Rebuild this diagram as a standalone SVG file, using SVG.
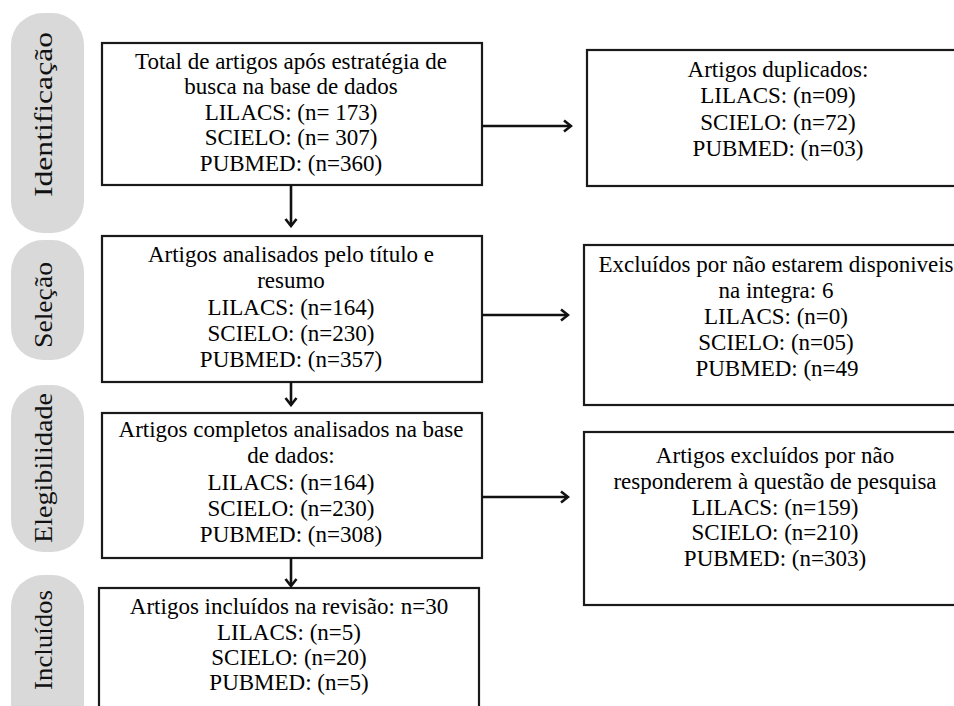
<svg xmlns="http://www.w3.org/2000/svg" width="954" height="706" viewBox="0 0 954 706">
<defs>
<style>
.pill{fill:#d9d9d9;}
.box{fill:#fff;stroke:#1a1a1a;stroke-width:2.2;}
.t{font-family:"Liberation Serif","Times New Roman",serif;font-size:23px;fill:#000;text-anchor:middle;}
.p{font-family:"Liberation Serif","Times New Roman",serif;font-size:25px;fill:#111;text-anchor:middle;}
.c{fill:none;stroke:#111;stroke-width:2.6;}
</style>
<marker id="ah" markerUnits="userSpaceOnUse" markerWidth="14" markerHeight="14" viewBox="0 0 14 14" refX="12" refY="7" orient="auto">
<path d="M5,1.5 L12,7 L5,12.5" fill="none" stroke="#111" stroke-width="2.6"/>
</marker>
</defs>
<rect width="954" height="706" fill="#fff"/>

<g id="stage-identificacao">
<rect class="pill" x="11" y="13" width="73" height="220" rx="32"/>
<text class="p" transform="translate(52,114.5) rotate(-90)" textLength="165" lengthAdjust="spacingAndGlyphs">Identificação</text>
</g>
<g id="stage-selecao">
<rect class="pill" x="11" y="240" width="73" height="120" rx="32"/>
<text class="p" transform="translate(52,305) rotate(-90)" textLength="86" lengthAdjust="spacingAndGlyphs">Seleção</text>
</g>
<g id="stage-elegibilidade">
<rect class="pill" x="11" y="385" width="73" height="167" rx="32"/>
<text class="p" transform="translate(52,468) rotate(-90)" textLength="150" lengthAdjust="spacingAndGlyphs">Elegibilidade</text>
</g>
<g id="stage-incluidos">
<rect class="pill" x="11" y="575" width="73" height="160" rx="32"/>
<text class="p" transform="translate(52,640) rotate(-90)" textLength="100" lengthAdjust="spacingAndGlyphs">Incluídos</text>
</g>

<g id="box-total">
<rect class="box" x="102" y="43" width="380" height="142"/>
<text class="t" x="291" y="68.5">Total de artigos após estratégia de</text>
<text class="t" x="291" y="94">busca na base de dados</text>
<text class="t" x="291" y="119.5">LILACS: (n= 173)</text>
<text class="t" x="291" y="145">SCIELO: (n= 307)</text>
<text class="t" x="291" y="170.5">PUBMED: (n=360)</text>
</g>

<g id="box-duplicados">
<rect class="box" x="587" y="50" width="380" height="136"/>
<text class="t" x="778" y="76.5">Artigos duplicados:</text>
<text class="t" x="778" y="103">LILACS: (n=09)</text>
<text class="t" x="778" y="129.5">SCIELO: (n=72)</text>
<text class="t" x="778" y="156">PUBMED: (n=03)</text>
</g>

<g id="box-titulo-resumo">
<rect class="box" x="102" y="236" width="380" height="146"/>
<text class="t" x="291" y="262">Artigos analisados pelo título e</text>
<text class="t" x="291" y="288">resumo</text>
<text class="t" x="291" y="314.5">LILACS: (n=164)</text>
<text class="t" x="291" y="340.5">SCIELO: (n=230)</text>
<text class="t" x="291" y="367">PUBMED: (n=357)</text>
</g>

<g id="box-indisponiveis">
<rect class="box" x="584" y="245" width="380" height="160"/>
<text class="t" x="776" y="272">Excluídos por não estarem disponiveis</text>
<text class="t" x="776" y="298">na integra: 6</text>
<text class="t" x="776" y="324">LILACS: (n=0)</text>
<text class="t" x="776" y="350">SCIELO: (n=05)</text>
<text class="t" x="777" y="376">PUBMED: (n=49</text>
</g>

<g id="box-completos">
<rect class="box" x="102" y="413" width="380" height="145"/>
<text class="t" x="291" y="437">Artigos completos analisados na base</text>
<text class="t" x="291" y="463">de dados:</text>
<text class="t" x="291" y="489.5">LILACS: (n=164)</text>
<text class="t" x="291" y="515.5">SCIELO: (n=230)</text>
<text class="t" x="291" y="542">PUBMED: (n=308)</text>
</g>

<g id="box-nao-respondem">
<rect class="box" x="584" y="432" width="380" height="173"/>
<text class="t" x="775" y="463">Artigos excluídos por não</text>
<text class="t" x="775" y="489">responderem à questão de pesquisa</text>
<text class="t" x="775" y="514.5">LILACS: (n=159)</text>
<text class="t" x="775" y="540">SCIELO: (n=210)</text>
<text class="t" x="775" y="565.5">PUBMED: (n=303)</text>
</g>

<g id="box-incluidos">
<rect class="box" x="99" y="588" width="380" height="140"/>
<text class="t" x="289" y="614">Artigos incluídos na revisão: n=30</text>
<text class="t" x="289" y="640">LILACS: (n=5)</text>
<text class="t" x="289" y="665">SCIELO: (n=20)</text>
<text class="t" x="289" y="690">PUBMED: (n=5)</text>
</g>

<g id="connectors">
<line class="c" x1="291" y1="185" x2="291" y2="226" marker-end="url(#ah)"/>
<line class="c" x1="291" y1="382" x2="291" y2="405" marker-end="url(#ah)"/>
<line class="c" x1="291" y1="558" x2="291" y2="586" marker-end="url(#ah)"/>
<line class="c" x1="482" y1="126" x2="571" y2="126" marker-end="url(#ah)"/>
<line class="c" x1="482" y1="315" x2="568" y2="315" marker-end="url(#ah)"/>
<line class="c" x1="482" y1="497" x2="568" y2="497" marker-end="url(#ah)"/>
</g>
</svg>
